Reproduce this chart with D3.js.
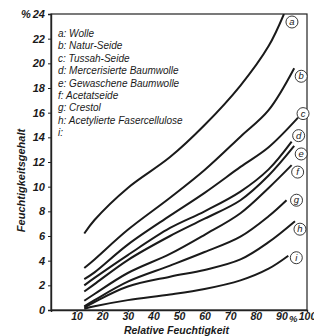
<!DOCTYPE html>
<html>
<head>
<meta charset="utf-8">
<script src="https://cdn.jsdelivr.net/npm/d3@7"></script>
<style>
  body { margin: 0; background: #fff; }
  text { font-family: "Liberation Sans", Arial, sans-serif; font-style: italic; fill: #1a1a1a; }
</style>
</head>
<body>
<div id="chart-area"></div>
<script>
// relative humidity (%) where the curves were read
let rh = [13, 17, 30, 46.5, 60, 74, 85];
// last point of each curve
let rhEnd = [91, 95, 96.5, 94, 95, 94, 92, 95.3, 92.7];

let letters = ["a", "b", "c", "d", "e", "f", "g", "h", "i"];
let names = ["Wolle", "Natur-Seide", "Tussah-Seide", "Mercerisierte Baumwolle",
	"Gewaschene Baumwolle", "Acetatseide", "Crestol", "Acetylierte Fasercellulose", ""];

let wolle    = [6.2, 7.3, 9.9, 12.4, 15.0, 18.2, 21.4, 24.0];
let natur    = [3.4, 4.1, 6.5, 9.1, 11.35, 14.05, 16.2, 19.6];
let tussah   = [2.5, 3.05, 5.3, 7.65, 9.5, 11.6, 13.2, 15.6];
let merc     = [2.0, 2.6, 4.45, 6.65, 8.0, 9.6, 11.4, 13.65];
let gewasch  = [1.5, 2.1, 4.05, 6.0, 7.4, 8.9, 10.9, 13.3];
let acetat   = [0.75, 1.3, 3.0, 4.55, 6.1, 7.85, 9.9, 11.75];
let crestol  = [0.3, 0.8, 2.3, 3.6, 4.7, 5.95, 7.6, 8.9];
let acetyl   = [0.2, 0.65, 1.9, 2.7, 3.25, 4.1, 5.5, 7.2];
let curveI   = [0.1, 0.3, 0.8, 1.25, 1.7, 2.4, 3.35, 4.4];

let series = [wolle, natur, tussah, merc, gewasch, acetat, crestol, acetyl, curveI];

let xTicks = [10, 20, 30, 40, 50, 60, 70, 80, 90, 100];
let yTicks = [0, 2, 4, 6, 8, 10, 12, 14, 16, 18, 20, 22, 24];

// small nudges for the circled letters (px)
let labelDx = [8, 7, 5, 7, 7, 6, 10, 5, 8];
let labelDy = [8, 8, -4, -6, 8, 7, 0, 8, 2];

let margin = { top: 14, right: 7, bottom: 26, left: 51 },
	width = 314 - margin.left - margin.right,
	height = 336 - margin.top - margin.bottom;

let svg = d3.select("#chart-area").append("svg")
	.attr("width", 314)
	.attr("height", 336);

let group = svg.append("g")
	.attr("transform", "translate(" + margin.left + "," + margin.top + ")");

let x = d3.scaleLinear().domain([0, 100]).range([0, width]);
let y = d3.scaleLinear().domain([0, 24]).range([height, 0]);

svg.append("defs").append("clipPath").attr("id", "clip")
	.append("rect").attr("width", width).attr("height", height);

// frame
group.append("rect")
	.attr("width", width).attr("height", height)
	.attr("fill", "none").attr("stroke", "#222").attr("stroke-width", 1.2);

let axisLeft = d3.axisLeft(y).tickValues(yTicks).tickSize(3).tickPadding(3);
let gy = group.append("g").call(axisLeft);
gy.select(".domain").attr("stroke", "#222").attr("stroke-width", 1.4);
gy.selectAll("line").attr("stroke", "#222");
gy.selectAll("text")
	.attr("font-size", "11px").attr("font-weight", "bold")
	.attr("font-family", "Liberation Sans, Arial, sans-serif")
	.attr("font-style", "italic").attr("fill", "#1a1a1a");

let axisBottom = d3.axisBottom(x).tickValues(xTicks).tickSize(2).tickPadding(1);
let gx = group.append("g").attr("transform", "translate(0," + height + ")").call(axisBottom);
gx.select(".domain").attr("stroke", "#222").attr("stroke-width", 1.4);
gx.selectAll("line").attr("stroke", "#222");
gx.selectAll("text")
	.attr("font-size", "10.5px").attr("font-weight", "bold")
	.attr("font-family", "Liberation Sans, Arial, sans-serif")
	.attr("font-style", "italic").attr("fill", "#1a1a1a");

group.append("text")
	.attr("x", x(94.6)).attr("y", height + 12)
	.attr("text-anchor", "middle").attr("font-size", "9.5px").attr("font-weight", "bold")
	.text("%");

group.append("text")
	.attr("x", -30).attr("y", 4)
	.attr("font-size", "11px").attr("font-weight", "bold")
	.text("%");

// axis titles
group.append("text")
	.attr("x", x(49)).attr("y", height + 24)
	.attr("text-anchor", "middle").attr("font-size", "10.5px").attr("font-weight", "bold")
	.text("Relative Feuchtigkeit");

group.append("text")
	.attr("transform", "translate(-26," + (y(10.5)) + ") rotate(-90)")
	.attr("text-anchor", "middle").attr("font-size", "11px").attr("font-weight", "bold")
	.text("Feuchtigkeitsgehalt");

// legend
letters.forEach((l, i) => {
	group.append("text")
		.attr("x", 7).attr("y", 23 + i * 12.4)
		.attr("font-size", "10px")
		.text(l + ": " + names[i]);
});

// curves
let line = d3.line()
	.x(d => x(d[0]))
	.y(d => y(d[1]))
	.curve(d3.curveCatmullRom.alpha(0.5));

series.forEach((vals, i) => {
	let pts = vals.map((v, j) => [j < rh.length ? rh[j] : rhEnd[i], v]);
	group.append("path")
		.attr("d", line(pts))
		.attr("clip-path", "url(#clip)")
		.attr("fill", "none")
		.attr("stroke", "#1a1a1a")
		.attr("stroke-width", 2);

	let last = pts[pts.length - 1];
	let cx = x(last[0]) + labelDx[i], cy = Math.max(y(last[1]), 0) + labelDy[i];
	group.append("circle")
		.attr("cx", cx).attr("cy", cy).attr("r", 6)
		.attr("fill", "#fff").attr("stroke", "#222").attr("stroke-width", 0.9);
	group.append("text")
		.attr("x", cx).attr("y", cy + 3.2)
		.attr("text-anchor", "middle").attr("font-size", "9.5px")
		.text(letters[i]);
});
</script>
</body>
</html>
